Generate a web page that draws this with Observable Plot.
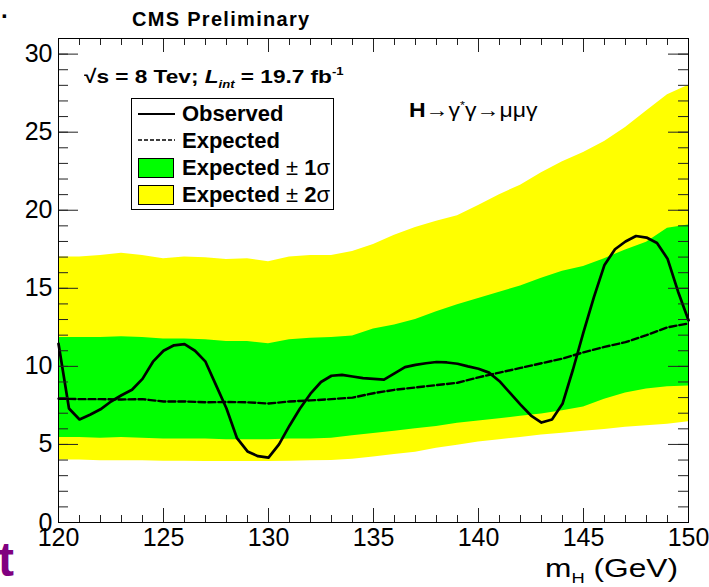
<!DOCTYPE html>
<html><head><meta charset="utf-8">
<script src="https://cdn.jsdelivr.net/npm/d3@7"></script>
<script src="https://cdn.jsdelivr.net/npm/@observablehq/plot@0.6"></script>
<style>
body{margin:0;background:#fff;}
#wrap{position:relative;width:709px;height:587px;overflow:hidden;font-family:"Liberation Sans",Arial,Helvetica,sans-serif;color:#000;}
#wrap svg{position:absolute;left:0;top:0;}
.ov{position:absolute;white-space:nowrap;color:#000;}
.sub{font-size:11px;font-style:italic;position:relative;top:5px;}
.sup{font-size:11px;position:relative;top:-8px;}
.reg{font-weight:normal;}
.wide{transform-origin:0 50%;}
#legend{position:absolute;left:131px;top:98px;width:201px;height:110px;border:1px solid #000;background:#fff;}
.sw{position:absolute;width:34px;height:18px;border:1px solid #000;}
</style></head><body><div id="wrap"></div>
<script>
// Higgs mass points (GeV) for expected limit and bands
const mass = [120,121,122,123,124,125,126,127,128,129,130,131,132,133,134,135,136,137,138,139,140,141,142,143,144,145,146,147,148,149,150];
const expected = [7.93,7.9,7.9,7.88,7.9,7.75,7.75,7.7,7.72,7.7,7.62,7.75,7.82,7.9,8.0,8.28,8.5,8.65,8.8,8.95,9.3,9.6,9.9,10.2,10.5,10.9,11.25,11.55,12.0,12.5,12.75];
const plus2sigma = [17.0,17.0,17.1,17.25,17.1,16.9,17.0,16.95,16.85,16.9,16.7,17.0,17.1,17.1,17.35,17.8,18.4,18.9,19.3,19.65,20.3,21.0,21.6,22.4,23.1,23.7,24.4,25.3,26.35,27.4,28.0];
const plus1sigma = [11.85,11.85,11.85,11.9,11.85,11.75,11.75,11.7,11.6,11.6,11.45,11.7,11.8,11.85,11.95,12.4,12.65,13.0,13.5,13.95,14.35,14.75,15.15,15.65,16.1,16.4,16.9,17.45,17.95,18.85,19.05];
const minus1sigma = [5.45,5.45,5.4,5.45,5.4,5.35,5.35,5.35,5.3,5.3,5.3,5.35,5.35,5.4,5.55,5.7,5.85,6.0,6.15,6.35,6.5,6.65,6.8,6.95,7.15,7.4,7.9,8.3,8.55,8.7,8.75];
const minus2sigma = [4.0,4.0,3.95,3.95,3.95,3.93,3.92,3.9,3.9,3.9,3.9,3.92,3.95,3.97,4.05,4.2,4.35,4.5,4.75,4.95,5.15,5.3,5.45,5.6,5.72,5.85,5.95,6.1,6.2,6.3,6.45];
// Observed limit (0.5 GeV steps)
const obsMass = [120,120.5,121,121.5,122,122.5,123,123.5,124,124.5,125,125.5,126,126.5,127,127.5,128,128.5,129,129.5,130,130.5,131,131.5,132,132.5,133,133.5,134,134.5,135,135.5,136,136.5,137,137.5,138,138.5,139,139.5,140,140.5,141,141.5,142,142.5,143,143.5,144,144.5,145,145.5,146,146.5,147,147.5,148,148.5,149,149.5,150];
const observed = [11.45,7.3,6.6,6.9,7.25,7.75,8.15,8.5,9.2,10.3,11.0,11.35,11.42,11.0,10.3,8.8,7.3,5.4,4.55,4.25,4.15,5.0,6.2,7.3,8.25,9.0,9.4,9.45,9.35,9.25,9.2,9.15,9.55,9.95,10.1,10.2,10.28,10.25,10.17,10.0,9.85,9.6,9.05,8.3,7.55,6.85,6.4,6.6,7.6,9.8,12.2,14.45,16.5,17.5,18.0,18.35,18.25,17.9,16.9,14.8,12.95];
// Axis ticks
const xMajorTicks = [120,125,130,135,140,145,150];
const xMinorTicks = d3.range(120,151,1);
const yMajorTicks = [0,5,10,15,20,25,30];
const yMinorTicks = d3.range(0,31,1);

const bands = mass.map((m,i)=>({m, exp:expected[i], hi2:plus2sigma[i], hi1:plus1sigma[i], lo1:minus1sigma[i], lo2:minus2sigma[i]}));
const obs = obsMass.map((m,i)=>({m, obs:observed[i]}));

const W=709, H=587, ML=58, MR=21, MT=38, MB=65;
const FW=W-ML-MR, FH=H-MT-MB;

const chart = Plot.plot({
  width:W, height:H,
  marginLeft:ML, marginRight:MR, marginTop:MT, marginBottom:MB,
  x:{domain:[120,150], label:null},
  y:{domain:[0,31], label:null},
  style:{fontFamily:"Liberation Sans, Arial, sans-serif", background:"white", color:"black", overflow:"visible"},
  marks:[
    Plot.areaY(bands,{x:"m", y1:"lo2", y2:"hi2", fill:"#ffff00", fillOpacity:1}),
    Plot.areaY(bands,{x:"m", y1:"lo1", y2:"hi1", fill:"#00ff00", fillOpacity:1}),
    Plot.lineY(bands,{x:"m", y:"exp", stroke:"black", strokeWidth:2.4, strokeDasharray:"7,3"}),
    Plot.lineY(obs,{x:"m", y:"obs", stroke:"black", strokeWidth:2.7}),
    // inward ticks (ROOT style) on all four sides
    Plot.tickY(yMinorTicks,{y:d=>d, insetRight:FW-10, stroke:"#222"}),
    Plot.tickY(yMajorTicks,{y:d=>d, insetRight:FW-20, stroke:"#222"}),
    Plot.tickY(yMinorTicks,{y:d=>d, insetLeft:FW-10, stroke:"#222"}),
    Plot.tickY(yMajorTicks,{y:d=>d, insetLeft:FW-20, stroke:"#222"}),
    Plot.tickX(xMinorTicks,{x:d=>d, insetTop:FH-7, stroke:"#222"}),
    Plot.tickX(xMajorTicks,{x:d=>d, insetTop:FH-14, stroke:"#222"}),
    Plot.tickX(xMinorTicks,{x:d=>d, insetBottom:FH-7, stroke:"#222"}),
    Plot.tickX(xMajorTicks,{x:d=>d, insetBottom:FH-14, stroke:"#222"}),
    Plot.frame({stroke:"black", strokeWidth:1}),
    Plot.axisY({ticks:yMajorTicks, tickSize:0, tickPadding:6, fontSize:25, label:null}),
    Plot.axisX({ticks:xMajorTicks, tickSize:0, tickPadding:6, fontSize:25, label:null})
  ]
});
const wrap = document.getElementById("wrap");
wrap.appendChild(chart);

const overlay = `
<div class="ov" style="left:1px;top:-4px;font-size:24px;font-weight:bold;">.</div>
<div class="ov" style="left:132px;top:8px;font-size:20px;font-weight:bold;letter-spacing:1.3px;">CMS Preliminary</div>
<div class="ov wide" style="left:84px;top:67px;font-size:19px;line-height:20px;font-weight:bold;transform:scaleX(1.19);">√s = 8 Tev; <i>L</i><span class="sub">int</span> = 19.7 fb<span class="sup">-1</span></div>
<div class="ov wide" style="left:409px;top:100px;font-size:20px;line-height:20px;transform:scaleX(1.15);"><b>H</b>→γ<span class="sup">*</span>γ→μμγ</div>
<div id="legend">
  <svg width="201" height="110" style="position:absolute;left:0;top:0;">
    <line x1="6" x2="43" y1="15" y2="15" stroke="#000" stroke-width="2.2"/>
    <line x1="6" x2="43" y1="41" y2="41" stroke="#000" stroke-width="1.6" stroke-dasharray="4,2"/>
  </svg>
  <div class="sw" style="left:6px;top:59px;background:#00ff00;"></div>
  <div class="sw" style="left:6px;top:86px;background:#ffff00;"></div>
  <div class="ov" style="left:50px;top:4px;font-size:22px;line-height:22px;font-weight:bold;">Observed</div>
  <div class="ov" style="left:50px;top:31px;font-size:22px;line-height:22px;font-weight:bold;">Expected</div>
  <div class="ov" style="left:50px;top:58px;font-size:22px;line-height:22px;font-weight:bold;">Expected<span class="reg"> ± </span>1<span class="reg">σ</span></div>
  <div class="ov" style="left:50px;top:85px;font-size:22px;line-height:22px;font-weight:bold;">Expected<span class="reg"> ± </span>2<span class="reg">σ</span></div>
</div>
<div class="ov wide" style="left:545px;top:555px;font-size:26px;line-height:26px;transform:scaleX(1.22);">m<span style="font-size:15px;position:relative;top:6px;">H</span> (GeV)</div>
<div class="ov" style="left:-2px;top:536px;font-size:48px;line-height:48px;font-weight:bold;color:#800080;">t</div>
`;
wrap.insertAdjacentHTML("beforeend", overlay);
</script>
</body></html>
